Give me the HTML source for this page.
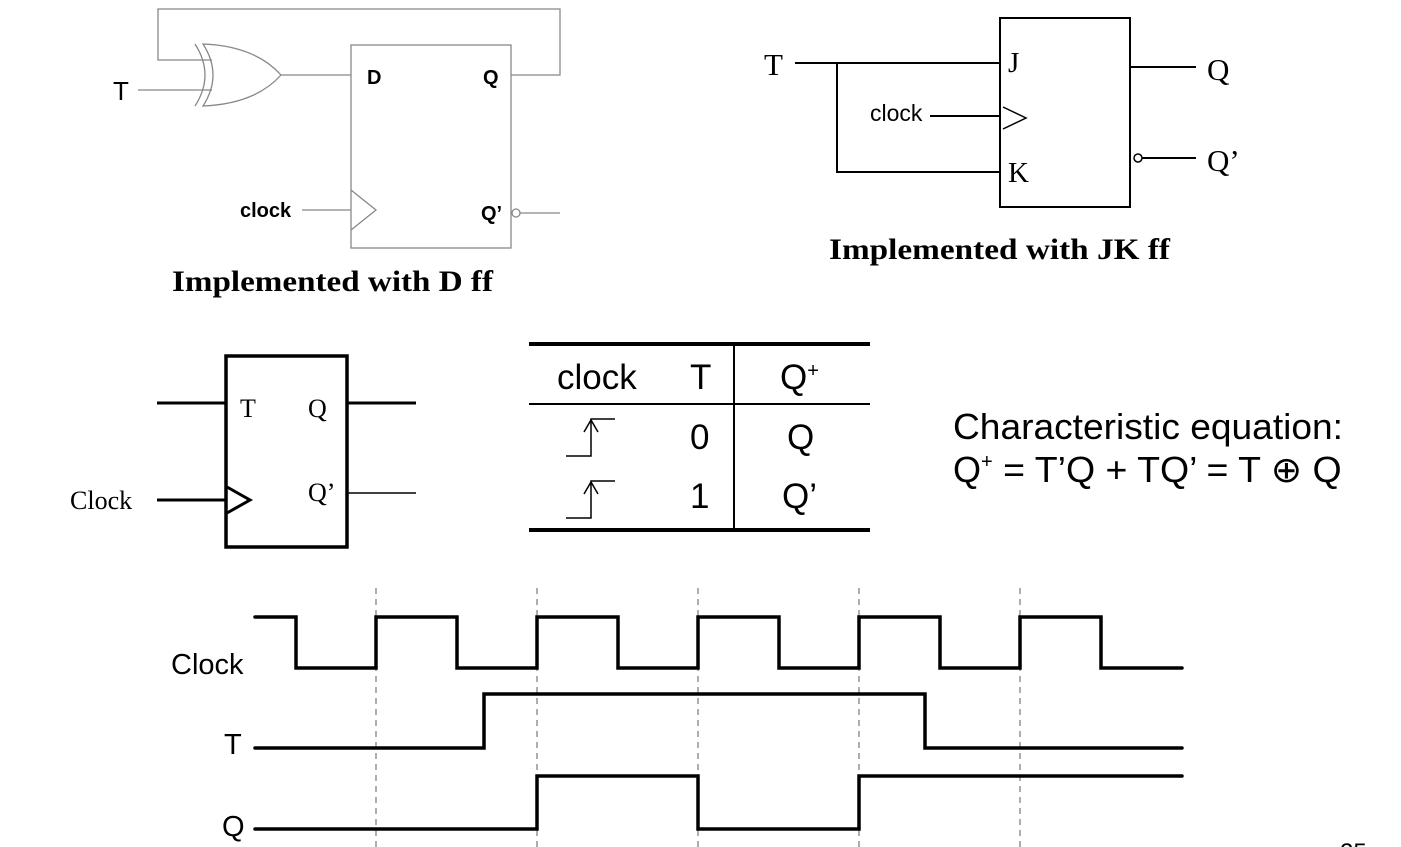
<!DOCTYPE html>
<html><head><meta charset="utf-8"><style>
html,body{margin:0;padding:0;background:#fff;}
svg{display:block;}
.a{font-family:"Liberation Sans",sans-serif;}
.s{font-family:"Liberation Serif",serif;}
</style></head><body>
<svg width="1401" height="847" viewBox="0 0 1401 847" xmlns="http://www.w3.org/2000/svg">
<!-- D ff -->
<g fill="none" stroke="#888" stroke-width="1.3">
<rect x="351" y="45" width="160" height="203"/>
<polyline points="511,75 560,75 560,9 158,9 158,60 212,60"/>
<line x1="138" y1="90" x2="212" y2="90"/>
<line x1="281" y1="75" x2="351" y2="75"/>
<path d="M195,44 Q215,75 195,106"/>
<path d="M203,44 Q223,75 203,106 Q255,104 281,75 Q255,46 203,44 Z"/>
<line x1="302" y1="210" x2="351" y2="210"/>
<polyline points="351,190 376,210 351,230"/>
<circle cx="516" cy="213" r="4"/>
<line x1="520" y1="213" x2="560" y2="213"/>
</g>
<text x="113" y="100" class="a" font-size="26">T</text>
<text x="367" y="84" class="a" font-size="20" font-weight="bold">D</text>
<text x="483" y="84" class="a" font-size="20" font-weight="bold">Q</text>
<text x="481" y="220" class="a" font-size="20" font-weight="bold">Q’</text>
<text x="240" y="217" class="a" font-size="20" font-weight="bold">clock</text>
<text x="172" y="291" class="s" font-size="30" font-weight="bold" textLength="321" lengthAdjust="spacingAndGlyphs">Implemented with D ff</text>
<!-- JK ff -->
<g fill="none" stroke="#000" stroke-width="2">
<rect x="1000" y="18" width="130" height="189"/>
<line x1="795" y1="63" x2="1000" y2="63"/>
<line x1="837" y1="63" x2="837" y2="173"/>
<line x1="837" y1="172" x2="1000" y2="172"/>
<line x1="930" y1="116" x2="1000" y2="116"/>
<polyline points="1003,107 1026,118 1003,129" stroke-width="1.5"/>
<line x1="1130" y1="67" x2="1196" y2="67"/>
<circle cx="1138" cy="158" r="4" stroke-width="1.5"/>
<line x1="1142" y1="158" x2="1196" y2="158"/>
</g>
<text x="764" y="75" class="s" font-size="31">T</text>
<text x="1008" y="72" class="s" font-size="29">J</text>
<text x="1008" y="182" class="s" font-size="29">K</text>
<text x="870" y="121" class="a" font-size="23">clock</text>
<text x="1207" y="80" class="s" font-size="31">Q</text>
<text x="1207" y="171" class="s" font-size="31">Q’</text>
<text x="829" y="259" class="s" font-size="30" font-weight="bold" textLength="341" lengthAdjust="spacingAndGlyphs">Implemented with JK ff</text>
<!-- T ff -->
<g fill="none" stroke="#000" stroke-width="3">
<rect x="226" y="356" width="121" height="191" stroke-width="3.5"/>
<line x1="157" y1="403" x2="226" y2="403"/>
<line x1="347" y1="403" x2="416" y2="403"/>
<line x1="157" y1="500" x2="226" y2="500"/>
<polyline points="227,487 250,500 227,513"/>
<line x1="347" y1="493" x2="416" y2="493" stroke-width="1.5"/>
</g>
<text x="240" y="417" class="s" font-size="26">T</text>
<text x="308" y="417" class="s" font-size="26">Q</text>
<text x="308" y="501" class="s" font-size="26">Q’</text>
<text x="70" y="509" class="s" font-size="26">Clock</text>
<!-- table -->
<g stroke="#000" fill="none">
<line x1="529" y1="344" x2="870" y2="344" stroke-width="4"/>
<line x1="529" y1="404" x2="870" y2="404" stroke-width="2"/>
<line x1="529" y1="530" x2="870" y2="530" stroke-width="4"/>
<line x1="734" y1="344" x2="734" y2="530" stroke-width="2"/>
<polyline points="566,456 591,456 591,419 615,419" stroke-width="1.5"/>
<polyline points="584,432 591,420 598,432" stroke-width="1.5"/>
<polyline points="566,518 591,518 591,481 615,481" stroke-width="1.5"/>
<polyline points="584,494 591,482 598,494" stroke-width="1.5"/>
</g>
<g class="a" font-size="35">
<text x="557" y="389">clock</text>
<text x="690" y="389">T</text>
<text x="780" y="389">Q<tspan font-size="20" dy="-12">+</tspan></text>
<text x="690" y="449">0</text>
<text x="787" y="449">Q</text>
<text x="690" y="508">1</text>
<text x="782" y="508">Q’</text>
</g>
<text x="953" y="439" class="a" font-size="36" textLength="390" lengthAdjust="spacingAndGlyphs">Characteristic equation:</text>
<text x="953" y="482" class="a" font-size="36">Q<tspan font-size="20" dy="-14">+</tspan><tspan dy="14" textLength="349" lengthAdjust="spacingAndGlyphs"> = T’Q + TQ’ = T ⊕ Q</tspan></text>
<!-- timing -->
<g stroke="#777" stroke-width="1.2" stroke-dasharray="6,5">
<line x1="376" y1="588" x2="376" y2="847"/>
<line x1="537" y1="588" x2="537" y2="847"/>
<line x1="698" y1="588" x2="698" y2="847"/>
<line x1="859" y1="588" x2="859" y2="847"/>
<line x1="1020" y1="588" x2="1020" y2="847"/>
</g>
<g fill="none" stroke="#000" stroke-width="3.5" stroke-linecap="round">
<polyline points="255,617 296,617 296,668 376,668 376,617 457,617 457,668 537,668 537,617 618,617 618,668 698,668 698,617 779,617 779,668 859,668 859,617 940,617 940,668 1020,668 1020,617 1101,617 1101,668 1182,668"/>
<polyline points="255,748 484,748 484,694 925,694 925,748 1182,748"/>
<polyline points="255,829 537,829 537,776 698,776 698,829 859,829 859,776 1182,776"/>
</g>
<text x="171" y="674" class="a" font-size="29">Clock</text>
<text x="224" y="754" class="a" font-size="29">T</text>
<text x="222" y="836" class="a" font-size="29">Q</text>
<text x="1340" y="860" class="a" font-size="24">25</text>
</svg>
</body></html>
